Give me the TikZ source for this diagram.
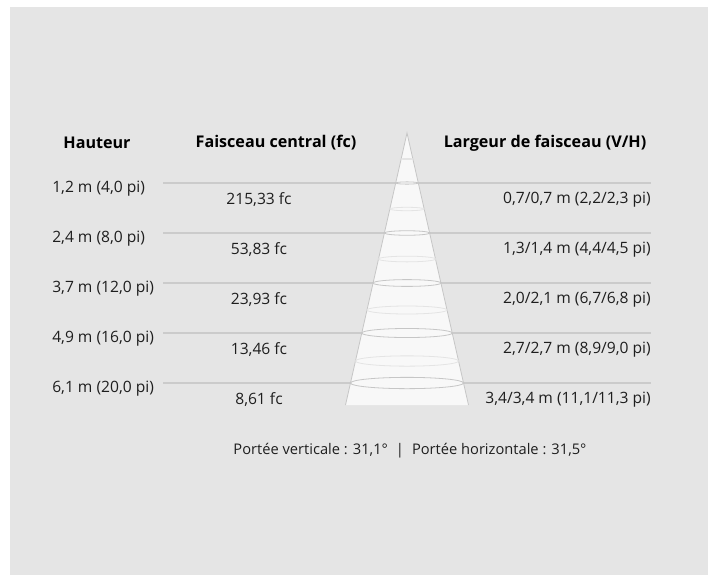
\documentclass[tikz,border=0pt]{standalone}
\usepackage{fontspec}
\setmainfont{Open Sans}
\definecolor{panelGray}{HTML}{E5E5E5}
\definecolor{ruleGray}{HTML}{CBCBCB}
\definecolor{beamFill}{HTML}{F8F8F8}
\definecolor{beamEdge}{HTML}{C6C6C6}
\definecolor{ringFaint}{HTML}{E4E4E4}
\definecolor{inkGray}{HTML}{1E1E1E}
\newcommand{\beamRow}[5]{%%
  %% A rule line with the height at its left.
  \coordinate (start#1) at (\xlineStart,#2);
  \coordinate (end#1) at (\xlineEnd,#2);
  \draw[ruleStyle] (start#1) -- (end#1);
  \node[heightStyle] (height#1) at (\xheight,#2+6) {#3};
  %% The values below the rule line.
  \node[valueStyle] (value#1) at (\xvalue,#2+17) {#4};
  \node[widthStyle] (width#1) at (\xwidth,#2+17) {#5};
}
\newcommand{\beamCone}{%%
  \fill[beamFill] (apex) -- (baseLeft) -- (baseRight) -- cycle;
  \draw[coneStyle] (baseLeft) -- (apex) -- (baseRight);
}
\newcommand{\beamRing}[2]{%%
  \pgfmathsetmacro{\halfwidth}{\halfbase*(#1-\yapex)/(\ybase-\yapex)}
  \draw[#2] (\xapex,#1) ellipse [x radius=\halfwidth, y radius=0.1*\halfwidth];
}

\begin{document}
\begin{tikzpicture}[%%
  x=0.75pt,y=-0.75pt,
  every node/.style={inner sep=0pt,text=inkGray,font=\fontsize{11.7}{14}\selectfont},
  headStyle/.style={font=\fontsize{12.1}{14}\selectfont\bfseries,text=black},
  heightStyle/.style={anchor=west},
  valueStyle/.style={anchor=center},
  widthStyle/.style={anchor=east},
  spreadStyle/.style={font=\fontsize{11}{14}\selectfont},
  ruleStyle/.style={-,draw=ruleGray,line width=0.8pt},
  coneStyle/.style={-,draw=beamEdge,line width=0.6pt},
  ringStyle/.style={draw=beamEdge,line width=0.6pt},
  faintStyle/.style={draw=ringFaint,line width=0.6pt}
]
%%
%%
\pgfmathsetmacro{\xlineStart}{163}
\pgfmathsetmacro{\xlineEnd}{651}
\pgfmathsetmacro{\xheight}{52}
\pgfmathsetmacro{\xvalue}{259}
\pgfmathsetmacro{\xwidth}{651}
\pgfmathsetmacro{\xapex}{407}
\pgfmathsetmacro{\yapex}{133}
\pgfmathsetmacro{\ybase}{405}
\pgfmathsetmacro{\halfbase}{61.5}
\coordinate (apex) at (\xapex,\yapex);
\coordinate (baseLeft) at (\xapex-\halfbase,\ybase);
\coordinate (baseRight) at (\xapex+\halfbase,\ybase);
%%
%%
%% The panel.
\useasboundingbox (0,0) rectangle (712,575);
\fill[white] (0,0) rectangle (712,575);
\fill[panelGray] (10,7) rectangle (708,575);
%%
%% The column heads.
\node[headStyle] (headHeight) at (97,143) {Hauteur};
\node[headStyle] (headCentral) at (276,143) {Faisceau central (fc)};
\node[headStyle] (headWidth) at (545,143) {Largeur de faisceau (V/H)};
%%
%% The rows.
\beamRow{A}{183}{1,2 m (4,0 pi)}{215,33 fc}{0,7/0,7 m (2,2/2,3 pi)}
\beamRow{B}{233}{2,4 m (8,0 pi)}{53,83 fc}{1,3/1,4 m (4,4/4,5 pi)}
\beamRow{C}{283}{3,7 m (12,0 pi)}{23,93 fc}{2,0/2,1 m (6,7/6,8 pi)}
\beamRow{D}{333}{4,9 m (16,0 pi)}{13,46 fc}{2,7/2,7 m (8,9/9,0 pi)}
\beamRow{E}{383}{6,1 m (20,0 pi)}{8,61 fc}{3,4/3,4 m (11,1/11,3 pi)}
%%
%% The beam over the rule lines.
\beamCone
\beamRing{159}{faintStyle}
\beamRing{209}{faintStyle}
\beamRing{259}{faintStyle}
\beamRing{310}{faintStyle}
\beamRing{361}{faintStyle}
\beamRing{183}{ringStyle}
\beamRing{233}{ringStyle}
\beamRing{283}{ringStyle}
\beamRing{333}{ringStyle}
\beamRing{383}{ringStyle}
%%
%% The spread.
\node[spreadStyle] (spread) at (410,451) {Portée verticale : 31,1°\hspace{6pt}|\hspace{6pt}Portée horizontale : 31,5°};
\end{tikzpicture}
\end{document}
